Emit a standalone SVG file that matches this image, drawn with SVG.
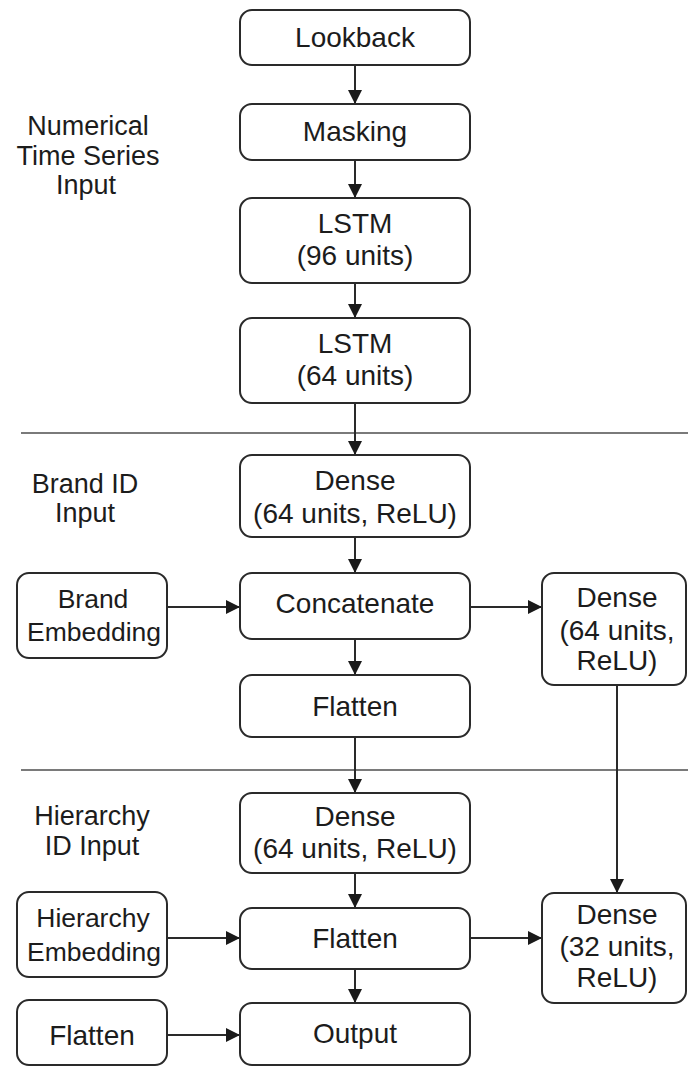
<svg xmlns="http://www.w3.org/2000/svg" width="688" height="1066" viewBox="0 0 688 1066">
  <defs>
    <marker id="arrow" viewBox="0 0 14 14" refX="14" refY="7" markerWidth="14" markerHeight="14" markerUnits="userSpaceOnUse" orient="auto">
      <path d="M0,0 L14,7 L0,14 Z" fill="#1a1a1a"/>
    </marker>
    <style>
      .node rect { fill: #ffffff; stroke: #2a2a2a; stroke-width: 2; }
      text { font-family: "Liberation Sans", Arial, Helvetica, sans-serif; font-size: 28px; fill: #1c1c1c; text-anchor: middle; }
      .label { font-size: 27px; }
      .small { font-size: 26.5px; }
      .edge { stroke: #2a2a2a; stroke-width: 2; fill: none; marker-end: url(#arrow); }
      .divider { stroke: #7a7a7a; stroke-width: 2; }
    </style>
  </defs>

  <rect width="688" height="1066" fill="#ffffff"/>

  <!-- section dividers -->
  <g id="dividers">
    <line class="divider" x1="21" y1="433" x2="688" y2="433"/>
    <line class="divider" x1="21" y1="770" x2="688" y2="770"/>
  </g>

  <!-- section labels -->
  <g id="labels">
    <text class="label" x="88" y="135">Numerical</text>
    <text class="label" x="88" y="165">Time Series</text>
    <text class="label" x="86" y="194">Input</text>
    <text class="label" x="85" y="493">Brand ID</text>
    <text class="label" x="85" y="522">Input</text>
    <text class="label" x="92" y="825">Hierarchy</text>
    <text class="label" x="92" y="855">ID Input</text>
  </g>

  <!-- connectors -->
  <g id="connectors">
    <line class="edge" x1="355" y1="65" x2="355" y2="104"/>
    <line class="edge" x1="355" y1="160" x2="355" y2="198"/>
    <line class="edge" x1="355" y1="283" x2="355" y2="318"/>
    <line class="edge" x1="355" y1="403" x2="355" y2="455"/>
    <line class="edge" x1="355" y1="537" x2="355" y2="573"/>
    <line class="edge" x1="167" y1="607" x2="240" y2="607"/>
    <line class="edge" x1="470" y1="607" x2="542" y2="607"/>
    <line class="edge" x1="355" y1="639" x2="355" y2="675"/>
    <line class="edge" x1="355" y1="737" x2="355" y2="793"/>
    <line class="edge" x1="617" y1="685" x2="617" y2="893"/>
    <line class="edge" x1="355" y1="873" x2="355" y2="908"/>
    <line class="edge" x1="167" y1="938" x2="240" y2="938"/>
    <line class="edge" x1="470" y1="938" x2="542" y2="938"/>
    <line class="edge" x1="355" y1="969" x2="355" y2="1003"/>
    <line class="edge" x1="167" y1="1035" x2="240" y2="1035"/>
  </g>

  <!-- nodes -->
  <g id="lookback" class="node">
    <rect x="240" y="10" width="230" height="55" rx="12"/>
    <text x="355" y="47">Lookback</text>
  </g>
  <g id="masking" class="node">
    <rect x="240" y="104" width="230" height="56" rx="12"/>
    <text x="355" y="141">Masking</text>
  </g>
  <g id="lstm96" class="node">
    <rect x="240" y="198" width="230" height="85" rx="12"/>
    <text x="355" y="233">LSTM</text>
    <text x="355" y="265">(96 units)</text>
  </g>
  <g id="lstm64" class="node">
    <rect x="240" y="318" width="230" height="85" rx="12"/>
    <text x="355" y="353">LSTM</text>
    <text x="355" y="385">(64 units)</text>
  </g>
  <g id="dense-brand" class="node">
    <rect x="240" y="455" width="230" height="82" rx="12"/>
    <text x="355" y="490">Dense</text>
    <text x="355" y="523">(64 units, ReLU)</text>
  </g>
  <g id="brand-embedding" class="node">
    <rect x="17" y="573" width="150" height="85" rx="12"/>
    <text class="small" x="93" y="608">Brand</text>
    <text class="small" x="94" y="641">Embedding</text>
  </g>
  <g id="concatenate" class="node">
    <rect x="240" y="573" width="230" height="66" rx="12"/>
    <text x="355" y="613">Concatenate</text>
  </g>
  <g id="dense-right-64" class="node">
    <rect x="542" y="573" width="144" height="112" rx="12"/>
    <text x="617" y="607">Dense</text>
    <text x="617" y="640">(64 units,</text>
    <text x="617" y="670">ReLU)</text>
  </g>
  <g id="flatten-brand" class="node">
    <rect x="240" y="675" width="230" height="62" rx="12"/>
    <text x="355" y="716">Flatten</text>
  </g>
  <g id="dense-hierarchy" class="node">
    <rect x="240" y="793" width="230" height="80" rx="12"/>
    <text x="355" y="826">Dense</text>
    <text x="355" y="858">(64 units, ReLU)</text>
  </g>
  <g id="hierarchy-embedding" class="node">
    <rect x="17" y="892" width="150" height="85" rx="12"/>
    <text class="small" x="93" y="927">Hierarchy</text>
    <text class="small" x="94" y="961">Embedding</text>
  </g>
  <g id="flatten-hierarchy" class="node">
    <rect x="240" y="908" width="230" height="61" rx="12"/>
    <text x="355" y="948">Flatten</text>
  </g>
  <g id="dense-right-32" class="node">
    <rect x="542" y="893" width="144" height="110" rx="12"/>
    <text x="617" y="924">Dense</text>
    <text x="617" y="956">(32 units,</text>
    <text x="617" y="987">ReLU)</text>
  </g>
  <g id="flatten-left" class="node">
    <rect x="17" y="1000" width="150" height="65" rx="12"/>
    <text x="92" y="1045">Flatten</text>
  </g>
  <g id="output" class="node">
    <rect x="240" y="1003" width="230" height="62" rx="12"/>
    <text x="355" y="1043">Output</text>
  </g>
</svg>
